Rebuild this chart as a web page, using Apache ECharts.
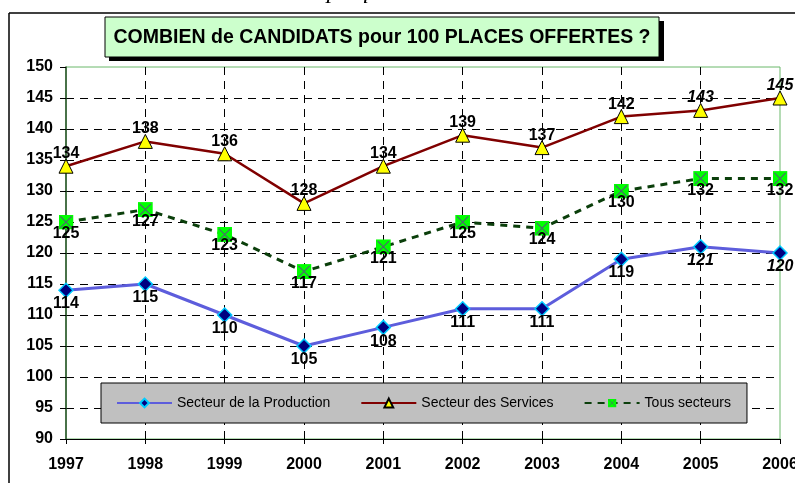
<!DOCTYPE html>
<html>
<head>
<meta charset="utf-8">
<script src="https://cdn.jsdelivr.net/npm/echarts@6/dist/echarts.min.js"></script>
<style>
html,body{margin:0;padding:0;background:#fff;}
#chart{width:795px;height:483px;}
</style>
</head>
<body>
<div id="chart"></div>
<script>
const years = ['1997','1998','1999','2000','2001','2002','2003','2004','2005','2006'];
const production = [114,115,110,105,108,111,111,119,121,120];
const services = [134,138,136,128,134,139,137,142,143,145];
const tous = [125,127,123,117,121,125,124,130,132,132];
const seriesNames = ['Secteur de la Production','Secteur des Services','Tous secteurs'];
const yMin = 90, yMax = 150, yStep = 5;
const italicFrom = 8;

const FONT = 'Liberation Sans, Arial, sans-serif';
const sqX = 'image://data:image/svg+xml;utf8,' + encodeURIComponent(
  '<svg xmlns="http://www.w3.org/2000/svg" width="16" height="16" viewBox="0 0 16 16">' +
  '<rect x="0" y="0" width="16" height="16" fill="#00ff00"/>' +
  '<path d="M2,2 L14,14 M14,2 L2,14" stroke="#4f6470" stroke-width="1.2"/></svg>');

function withItalic(arr){
  return arr.map((v,i)=> i>=italicFrom ? {value:v,label:{fontStyle:'italic'}} : v);
}

const chart = echarts.init(document.getElementById('chart'), null, {renderer:'canvas'});
const labelBase = {show:true, fontFamily:FONT, fontWeight:'bold', fontSize:16, color:'#000'};

chart.setOption({
  animation:false,
  backgroundColor:'#fff',
  textStyle:{fontFamily:FONT},
  grid:{left:66, right:15, top:67, bottom:44, outerBoundsMode:'none', containLabel:false,
        show:true, borderColor:'#6ab86a', borderWidth:1, backgroundColor:'transparent'},
  legend:{
    left:101, top:383, width:700,
    padding:[13,16,13,15],
    backgroundColor:'#c0c0c0', borderColor:'#000', borderWidth:1,
    itemWidth:55, itemHeight:11, itemGap:30,
    textStyle:{fontFamily:FONT, fontSize:14, color:'#000'},
    data:seriesNames
  },
  xAxis:{
    type:'category', data:years, boundaryGap:false,
    axisLine:{lineStyle:{color:'#000', width:1}},
    axisTick:{show:true, length:5, lineStyle:{color:'#000'}},
    axisLabel:{fontFamily:FONT, fontWeight:'bold', fontSize:16, color:'#000', margin:18},
    splitLine:{show:true, showMinLine:false, showMaxLine:false, lineStyle:{color:'#000', type:[8,6], width:1}}
  },
  yAxis:{
    type:'value', min:yMin, max:yMax, interval:yStep,
    axisLine:{show:true, lineStyle:{color:'#254f25', width:1.5}},
    axisTick:{show:true, length:6, lineStyle:{color:'#000'}},
    axisLabel:{fontFamily:FONT, fontWeight:'bold', fontSize:16, color:'#000', margin:13},
    splitLine:{show:true, showMinLine:false, showMaxLine:false, lineStyle:{color:'#000', type:[8,6], width:1}}
  },
  series:[
    {
      name:seriesNames[2], type:'line', data:tous,
      symbol:sqX, symbolSize:15,
      lineStyle:{color:'#0b3f0b', width:3, type:[7,6]},
      itemStyle:{color:'#00ff00'},
      label:Object.assign({}, labelBase, {position:'bottom', distance:-4}),
      z:3
    },
    {
      name:seriesNames[0], type:'line', data:withItalic(production),
      symbol:'diamond', symbolSize:14,
      lineStyle:{color:'#5d5ddc', width:3},
      itemStyle:{color:'#000080', borderColor:'#00ccff', borderWidth:1.5},
      label:Object.assign({}, labelBase, {position:'bottom', distance:-2}),
      z:4
    },
    {
      name:seriesNames[1], type:'line', data:withItalic(services),
      symbol:'triangle', symbolSize:14,
      lineStyle:{color:'#800000', width:2.5},
      itemStyle:{color:'#ffff00', borderColor:'#000', borderWidth:1},
      label:Object.assign({}, labelBase, {position:'top', distance:-3}),
      z:5
    }
  ],
  graphic:[
    {type:'line', shape:{x1:9,y1:13,x2:795,y2:13}, style:{stroke:'#000', lineWidth:1.5}},
    {type:'line', shape:{x1:9,y1:13,x2:9,y2:483}, style:{stroke:'#000', lineWidth:1.5}},
    {type:'text', left:288, top:-20, style:{text:'Graphique', font:'italic 24px "Liberation Serif", serif', fill:'#000'}},
    {type:'rect', shape:{x:109,y:21,width:555,height:40}, style:{fill:'#000'}},
    {type:'rect', shape:{x:105,y:17,width:554,height:40}, style:{fill:'#ccffcc', stroke:'#000', lineWidth:1}},
    {type:'text', x:382, y:38, style:{text:'COMBIEN de CANDIDATS pour 100 PLACES OFFERTES ?', font:'bold 19.5px "Liberation Sans", Arial, sans-serif', fill:'#000', align:'center', verticalAlign:'middle'}}
  ]
});
</script>
</body>
</html>
